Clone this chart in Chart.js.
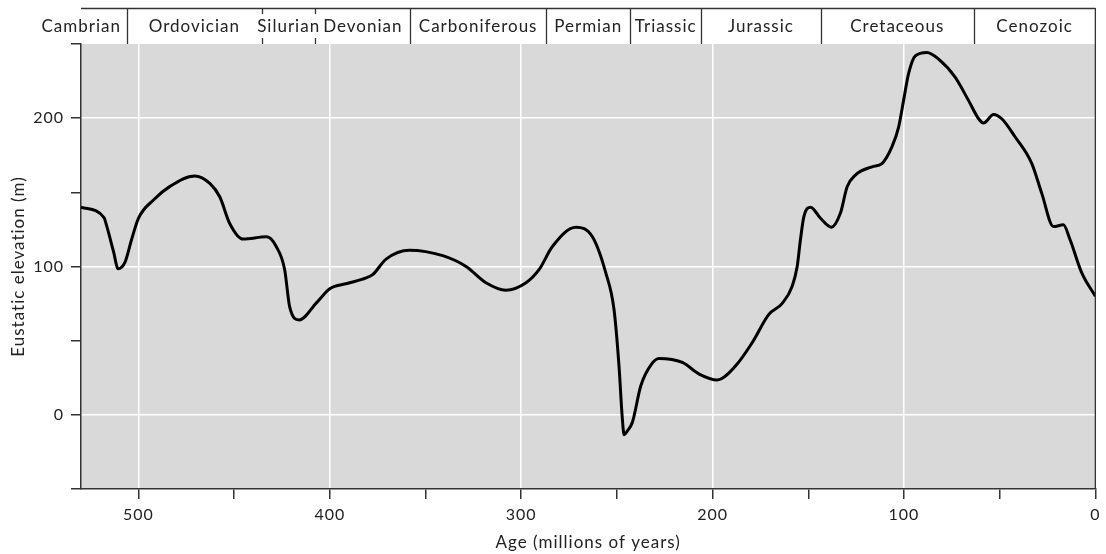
<!DOCTYPE html>
<html>
<head>
<meta charset="utf-8">
<script src="https://cdn.jsdelivr.net/npm/chart.js@4"></script>
<style>
  html, body { margin: 0; padding: 0; background: #fff; }
  #wrap { width: 1106px; height: 554px; }
</style>
</head>
<body>
<div id="wrap"><canvas id="seaLevel" width="1106" height="554"></canvas></div>
<script>
// age in millions of years (descending) and eustatic elevation in metres
const ages = [530, 518, 516.5, 513, 510.6, 507, 503.6, 500, 492, 483.5, 470.5, 462.7, 457.5, 452.3, 445.4,
  433, 428, 423.6, 421, 416, 407, 400, 391, 381, 377.6, 370.6, 358.4, 341, 328.8, 318.4, 308, 297.5,
  290.6, 283.7, 271.4, 262.8, 255.8, 251.5, 248.9, 247.3, 246.2, 244.6, 241.9, 237.5, 232, 228, 215.8,
  207, 197.6, 188, 179.3, 170.6, 163.7, 158.4, 155.8, 154.1, 152.3, 148.8, 143.6, 137.9, 133.2, 129.7,
  125.4, 116.7, 111.5, 106.3, 102.8, 100.2, 97.6, 94.1, 88, 81.9, 73.2, 66.3, 61, 58.4, 53.2, 48.9,
  41.9, 33.2, 28, 21.9, 16.7, 13.2, 7.1, 0];
const elevation = [140, 133, 127, 110, 98.5, 103, 118, 132.5, 145, 154, 161, 156, 147, 129, 118.5,
  120, 113.5, 98, 73, 64, 75.5, 85, 88.5, 92.3, 94.5, 105, 111, 107.3, 100, 89, 84, 89,
  98, 113.5, 126.5, 120, 95.7, 71, 33, 0, -13.5, -11, -5, 19.6, 34, 38, 35.3,
  27.5, 23.5, 33, 48.7, 67.7, 75, 86.7, 100, 118, 133.6, 140, 132.5, 126.5, 136, 153.7,
  161.6, 167.2, 169.4, 180.6, 194, 212, 230, 242, 244.3, 239.8, 227.5, 212, 199.6, 196.7, 202.5, 199.6,
  187.3, 169.4, 149.3, 126.9, 128.1, 118, 95.7, 80];

const periodNames = ['Cambrian', 'Ordovician', 'Silurian', 'Devonian', 'Carboniferous', 'Permian',
  'Triassic', 'Jurassic', 'Cretaceous', 'Cenozoic'];
const periodStarts = [530, 506, 435.5, 407.5, 358, 287, 243, 206, 143.5, 63.5];
const periodEnds = [506, 435.5, 407.5, 358, 287, 243, 206, 143.5, 63.5, 0];

const xTicks = [500, 450, 400, 350, 300, 250, 200, 150, 100, 50, 0];
const yTicks = [-50, 0, 50, 100, 150, 200, 250];

const FONT = 'Lato, "Open Sans", sans-serif';
const INK = '#222';

// grey plot background (and a little letter spacing, the original type is loose)
const plotBg = {
  id: 'plotBg',
  beforeDraw(chart) {
    const { ctx, chartArea: a } = chart;
    if ('letterSpacing' in ctx) ctx.letterSpacing = '1px';
    ctx.save();
    ctx.fillStyle = '#d9d9d9';
    ctx.fillRect(a.left, a.top, a.right - a.left, a.bottom - a.top);
    ctx.restore();
  }
};

// geological period bar across the top + right frame line
const periodBar = {
  id: 'periodBar',
  afterDraw(chart) {
    const { ctx, chartArea: a } = chart;
    const x = chart.scales.x;
    const top = 8, bottom = a.top;
    ctx.save();
    ctx.strokeStyle = '#333';
    ctx.lineWidth = 1.3;
    ctx.beginPath();
    ctx.moveTo(a.left, top + 0.5);
    ctx.lineTo(a.right, top + 0.5);
    ctx.moveTo(a.right, top);
    ctx.lineTo(a.right, a.bottom);
    ctx.stroke();
    ctx.beginPath();
    periodEnds.forEach((end, i) => {
      if (i === periodEnds.length - 1) return;
      const px = Math.round(x.getPixelForValue(end)) + 0.5;
      ctx.moveTo(px, top);
      ctx.lineTo(px, bottom);
    });
    ctx.stroke();

    ctx.font = '17px ' + FONT;
    ctx.textBaseline = 'middle';
    ctx.textAlign = 'center';
    const cy = (top + bottom) / 2 + 1;
    periodNames.forEach((name, i) => {
      const x0 = x.getPixelForValue(periodStarts[i]);
      const x1 = x.getPixelForValue(periodEnds[i]);
      const w = ctx.measureText(name).width;
      let cx = (x0 + x1) / 2;
      if (i === 0) cx = x1 - 6 - w / 2;
      ctx.fillStyle = '#fff';
      ctx.fillRect(cx - w / 2, top + 6, w, bottom - top - 12);
      ctx.fillStyle = INK;
      ctx.fillText(name, cx, cy);
    });
    ctx.restore();
  }
};

new Chart(document.getElementById('seaLevel'), {
  type: 'scatter',
  data: {
    datasets: [{
      label: 'Eustatic elevation',
      data: ages.map((a, i) => ({ x: a, y: elevation[i] })),
      showLine: true,
      borderColor: '#000',
      borderWidth: 3,
      pointRadius: 0,
      cubicInterpolationMode: 'monotone',
      fill: false
    }]
  },
  options: {
    responsive: false,
    animation: false,
    layout: { padding: { top: 44, right: 9, left: 0, bottom: 0 } },
    plugins: { legend: { display: false }, tooltip: { enabled: false } },
    scales: {
      x: {
        type: 'linear',
        reverse: true,
        min: 0,
        max: 530,
        afterBuildTicks: s => { s.ticks = xTicks.map(v => ({ value: v })); },
        afterFit: s => { s.height = 65; },
        border: { color: '#333', width: 1.5 },
        grid: {
          color: c => (c.tick && c.tick.value % 100 === 0 && c.tick.value > 0) ? '#fff' : 'rgba(0,0,0,0)',
          lineWidth: 1.5,
          tickColor: '#333',
          tickLength: 10,
          drawTicks: true
        },
        ticks: {
          color: INK,
          font: { family: FONT, size: 16 },
          padding: 6,
          maxRotation: 0,
          autoSkip: false,
          callback: v => (v % 100 === 0 ? String(v) : '')
        },
        title: {
          display: true,
          text: 'Age (millions of years)',
          color: INK,
          font: { family: FONT, size: 17 },
          padding: { top: 0, bottom: 1 }
        }
      },
      y: {
        min: -50,
        max: 250,
        afterBuildTicks: s => { s.ticks = yTicks.map(v => ({ value: v })); },
        afterFit: s => { s.width = 81; },
        border: { color: '#333', width: 1.5 },
        grid: {
          color: c => (c.tick && c.tick.value % 100 === 0) ? '#fff' : 'rgba(0,0,0,0)',
          lineWidth: 1.5,
          tickColor: '#333',
          tickLength: 10
        },
        ticks: {
          color: INK,
          font: { family: FONT, size: 16 },
          padding: 7,
          autoSkip: false,
          callback: v => (v % 100 === 0 ? String(v) : '')
        },
        title: {
          display: true,
          text: 'Eustatic elevation (m)',
          color: INK,
          font: { family: FONT, size: 17 },
          padding: { top: 8, bottom: 0 }
        }
      }
    }
  },
  plugins: [plotBg, periodBar]
});
</script>
</body>
</html>
